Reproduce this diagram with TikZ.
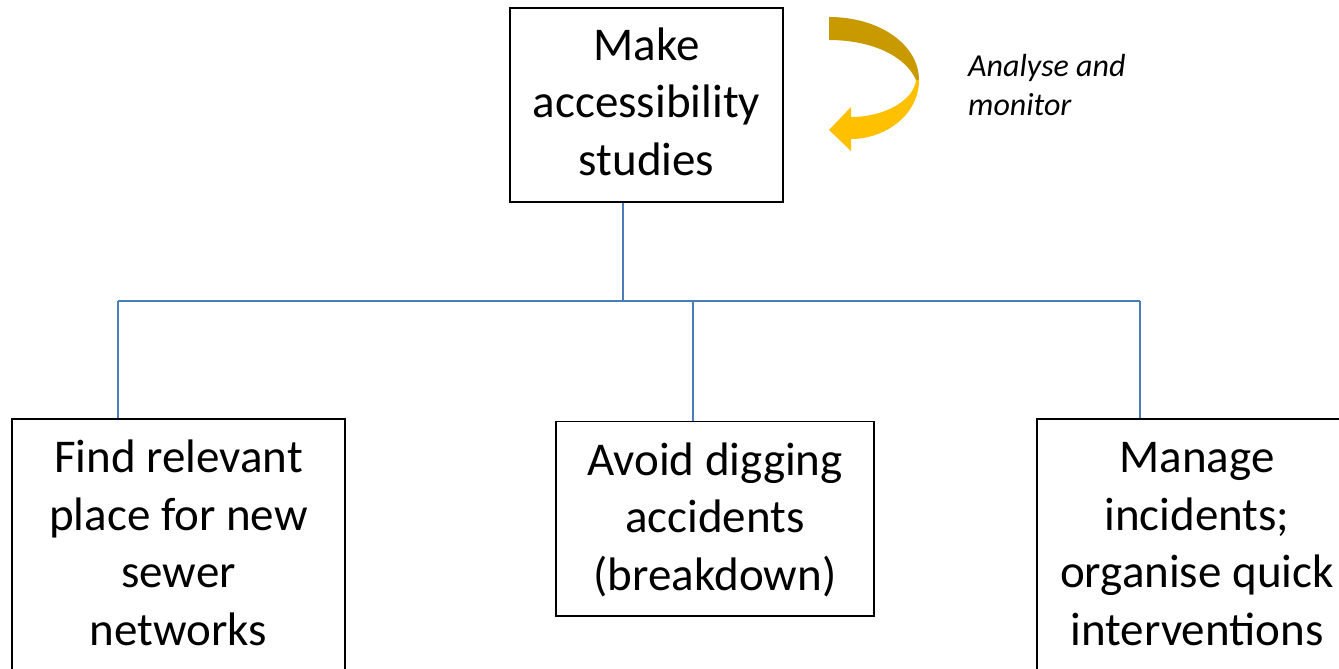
\documentclass[tikz,border=0pt]{standalone}
\usepackage{fontspec}
\setmainfont{Carlito}
\definecolor{linkblue}{RGB}{74,126,187}
\definecolor{golddark}{RGB}{201,154,0}
\definecolor{goldlight}{RGB}{255,192,0}
\begin{document}
\begin{tikzpicture}[x=1pt,y=-1pt,
  box/.style={draw=black, line width=1.4pt, inner sep=0pt},
  conn/.style={draw=linkblue, line width=2pt},
  txt/.style={font=\fontsize{47}{57.5}\selectfont, align=center, inner sep=0pt, anchor=base},
  note/.style={font=\fontsize{32}{39}\selectfont\itshape, align=left, inner sep=0pt, anchor=base west}]
\useasboundingbox (0,0) rectangle (1339,669);
\clip (0,0) rectangle (1339,669);
\fill[white] (0,0) rectangle (1339,669);
% boxes
\node[box, minimum width=273pt, minimum height=194pt] (top) at (646.5,105) {};
\node[box, minimum width=333pt, minimum height=281pt] (left) at (178.5,559.5) {};
\node[box, minimum width=318pt, minimum height=194.5pt] (mid) at (715,518.75) {};
\node[box, minimum width=363pt, minimum height=281pt] (right) at (1218.5,559.5) {};
% texts (anchor base = last line baseline)
\node[txt] (toptxt) at (646.5,175) {Make\\accessibility\\studies};
\node[txt] (lefttxt) at (178.5,645) {Find relevant\\place for new\\sewer\\networks};
\node[txt] (midtxt) at (715,590) {Avoid digging\\accidents\\(breakdown)};
\node[txt] (righttxt) at (1197,645) {Manage\\incidents;\\organise quick\\interventions};
% connectors
\coordinate (jt) at (623,301);
\coordinate (jl) at (118,301);
\coordinate (jm) at (693,301);
\coordinate (jr) at (1140,301);
\draw[conn] (top.south -| jt) -- (jt);
\draw[conn] (jl) -- (jr);
\draw[conn] (jl) -- (jl |- left.north);
\draw[conn] (jm) -- (jm |- mid.north);
\draw[conn] (jr) -- (jr |- right.north);
% curved arrow
\fill[golddark] (829,17) .. controls (880,17) and (919,45) .. (919,80)
  -- (916,80) .. controls (905,55) and (870,40) .. (829,40) -- cycle;
\fill[goldlight] (919,80) .. controls (919,115) and (885,139) .. (851,139)
  -- (851,151) -- (829,130) -- (851,107) -- (851,117)
  .. controls (885,117) and (914,100) .. (916,80) -- cycle;
\node[note] (am) at (968,115) {Analyse and\\monitor};
\end{tikzpicture}
\end{document}
